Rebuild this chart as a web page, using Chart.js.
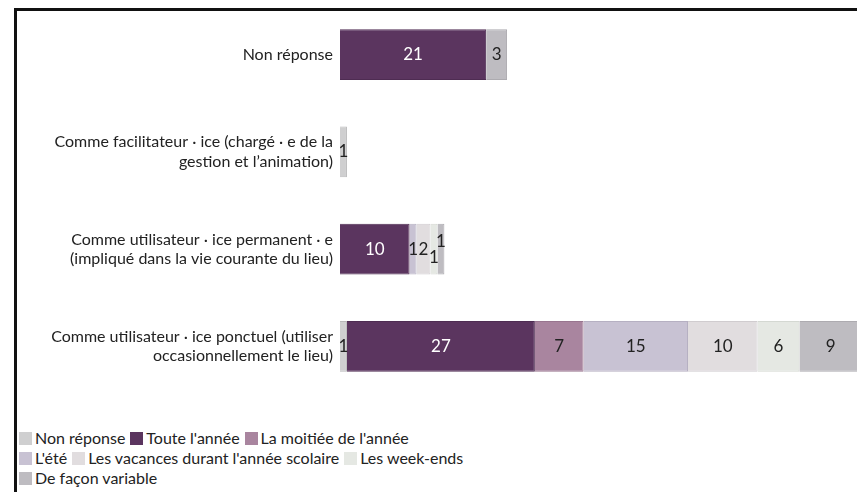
<!DOCTYPE html>
<html>
<head>
<meta charset="utf-8">
<script src="https://cdn.jsdelivr.net/npm/chart.js@4.4.1/dist/chart.umd.min.js"></script>
<style>
    html, body {margin: 0; padding: 0; background: #fff; overflow: hidden;}
    body {width: 857px; height: 492px; position: relative; font-family: Lato, 'Open Sans', sans-serif;}
    #frame {position: absolute; left: 14px; top: 8px; right: -10px; bottom: -10px; border-top: 3px solid #111; border-left: 3px solid #111;}
    #wrap {position: absolute; left: 0; top: 0; width: 862px; height: 400px;}
    #legend {position: absolute; left: 19px; top: 428px; font-size: 16px; line-height: 20px; color: #222; width: 560px;}
    #legend .item {display: inline-block; margin-right: 5px; white-space: nowrap;}
    #legend .box {display: inline-block; width: 13px; height: 13px; margin-right: 3px; vertical-align: -1px;}
</style>
</head>
<body>
<div id="frame"></div>
<div id="wrap"><canvas id="chart"></canvas></div>
<div id="legend"></div>

<script>
// ── DATA ──
const CATEGORIES = [
    'Non réponse',
    ['Comme facilitateur · ice (chargé · e de la', 'gestion et l’animation)'],
    ['Comme utilisateur · ice permanent · e', '(impliqué dans la vie courante du lieu)'],
    ['Comme utilisateur · ice ponctuel (utiliser', 'occasionnellement le lieu)']
];
const SERIES_NAMES = ['Non réponse', "Toute l'année", "La moitiée de l'année", "L'été",
    "Les vacances durant l'année scolaire", 'Les week-ends', 'De façon variable'];
const NON_REPONSE = [0, 1, 0, 1];
const TOUTE_ANNEE = [21, 0, 10, 27];
const MOITIE_ANNEE = [0, 0, 0, 7];
const ETE = [0, 0, 1, 15];
const VACANCES = [0, 0, 2, 10];
const WEEK_ENDS = [0, 0, 1, 6];
const VARIABLE = [3, 0, 1, 9];
const X_MAX = 75;

// Colors per series
const COLORS = ['#cfcfd0', '#5b355f', '#a9859f', '#c8c2d3', '#e1dddf', '#e5e8e3', '#bebcc1'];
const BORDERS = ['#b9b9ba', '#4e2c52', '#98758f', '#b6b0c2', '#d0cccf', '#d4d8d2', '#adabb0'];
const LABEL_COLORS = ['#222', '#fff', '#222', '#222', '#222', '#222', '#222'];

const VALUES = [NON_REPONSE, TOUTE_ANNEE, MOITIE_ANNEE, ETE, VACANCES, WEEK_ENDS, VARIABLE];
const FONT = 'Lato, "Open Sans", sans-serif';

// ── value labels inside segments ──
const segmentLabels = {
    id: 'segmentLabels',
    afterDatasetsDraw(chart) {
        const ctx = chart.ctx;
        ctx.save();
        ctx.font = '17px ' + FONT;
        ctx.textAlign = 'center';
        ctx.textBaseline = 'middle';
        const put = it => { ctx.fillStyle = it.color; ctx.fillText(String(it.v), it.x, it.y); };
        CATEGORIES.forEach((c, row) => {
            let prev = null;
            chart.data.datasets.forEach((ds, di) => {
                const v = ds.data[row];
                if (!v) return;
                const bar = chart.getDatasetMeta(di).data[row];
                const x = (bar.base + bar.x) / 2;
                const w = ctx.measureText(String(v)).width;
                const item = {x, y: bar.y, w, v, color: LABEL_COLORS[di]};
                // nudge overlapping neighbours apart vertically
                if (prev && prev.x + prev.w / 2 > x - w / 2) {
                    prev.y = bar.y + 8;
                    item.y = bar.y - 8;
                }
                if (prev) put(prev);
                prev = item;
            });
            if (prev) put(prev);
        });
        ctx.restore();
    }
};

new Chart(document.getElementById('chart'), {
    type: 'bar',
    data: {
        labels: CATEGORIES,
        datasets: SERIES_NAMES.map((name, i) => ({
            label: name, data: VALUES[i],
            backgroundColor: COLORS[i], borderColor: BORDERS[i], borderWidth: 1,
            barPercentage: 0.52, categoryPercentage: 1
        }))
    },
    options: {
        indexAxis: 'y', responsive: true, maintainAspectRatio: false, animation: false,
        layout: {padding: {top: 6, bottom: 5, right: 0}},
        plugins: {legend: {display: false}, tooltip: {enabled: false}},
        scales: {
            x: {stacked: true, min: 0, max: X_MAX, display: false},
            y: {
                stacked: true,
                grid: {display: false, drawTicks: false}, border: {display: false},
                ticks: {color: '#222', font: {size: 16, family: FONT}, padding: 7},
                afterFit: s => { s.width = 340; s.paddingTop = 0; s.paddingBottom = 0; }
            }
        }
    },
    plugins: [segmentLabels]
});

// ── HTML legend ──
const legend = document.getElementById('legend');
SERIES_NAMES.forEach((name, i) => {
    const it = document.createElement('span');
    it.className = 'item';
    it.innerHTML = `<span class="box" style="background:${COLORS[i]}"></span>`;
    it.appendChild(document.createTextNode(name));
    legend.appendChild(it);
    if (i === 2 || i === 5) legend.appendChild(document.createElement('br'));
});
</script>
</body>
</html>
